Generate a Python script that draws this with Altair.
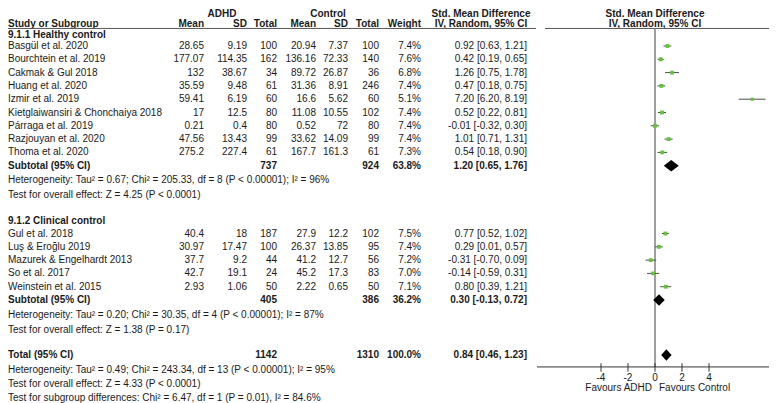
import altair as alt
import pandas as pd

# ---------------- data ----------------
hc_study = ["Basgül et al. 2020", "Bourchtein et al. 2019", "Cakmak & Gul 2018", "Huang et al. 2020",
            "Izmir et al. 2019", "Kietglaiwansiri & Chonchaiya 2018", "Párraga et al. 2019",
            "Razjouyan et al. 2020", "Thoma et al. 2020"]
hc_adhd_mean = ["28.65", "177.07", "132", "35.59", "59.41", "17", "0.21", "47.56", "275.2"]
hc_adhd_sd = ["9.19", "114.35", "38.67", "9.48", "6.19", "12.5", "0.4", "13.43", "227.4"]
hc_adhd_n = [100, 162, 34, 61, 60, 80, 80, 99, 61]
hc_ctrl_mean = ["20.94", "136.16", "89.72", "31.36", "16.6", "11.08", "0.52", "33.62", "167.7"]
hc_ctrl_sd = ["7.37", "72.33", "26.87", "8.91", "5.62", "10.55", "72", "14.09", "161.3"]
hc_ctrl_n = [100, 140, 36, 246, 60, 102, 80, 99, 61]
hc_weight = [7.4, 7.6, 6.8, 7.4, 5.1, 7.4, 7.4, 7.4, 7.3]
hc_smd = [0.92, 0.42, 1.26, 0.47, 7.20, 0.52, -0.01, 1.01, 0.54]
hc_lo = [0.63, 0.19, 0.75, 0.18, 6.20, 0.22, -0.32, 0.71, 0.18]
hc_hi = [1.21, 0.65, 1.78, 0.75, 8.19, 0.81, 0.30, 1.31, 0.90]

cc_study = ["Gul et al. 2018", "Luş & Eroğlu 2019", "Mazurek & Engelhardt 2013", "So et al. 2017",
            "Weinstein et al. 2015"]
cc_adhd_mean = ["40.4", "30.97", "37.7", "42.7", "2.93"]
cc_adhd_sd = ["18", "17.47", "9.2", "19.1", "1.06"]
cc_adhd_n = [187, 100, 44, 24, 50]
cc_ctrl_mean = ["27.9", "26.37", "41.2", "45.2", "2.22"]
cc_ctrl_sd = ["12.2", "13.85", "12.7", "17.3", "0.65"]
cc_ctrl_n = [102, 95, 56, 83, 50]
cc_weight = [7.5, 7.4, 7.2, 7.0, 7.1]
cc_smd = [0.77, 0.29, -0.31, -0.14, 0.80]
cc_lo = [0.52, 0.01, -0.70, -0.59, 0.39]
cc_hi = [1.02, 0.57, 0.09, 0.31, 1.21]

# pooled: label, adhd total, control total, weight, smd, lo, hi
pooled_label = ["Subtotal (95% CI)", "Subtotal (95% CI)", "Total (95% CI)"]
pooled_adhd_n = [737, 405, 1142]
pooled_ctrl_n = [924, 386, 1310]
pooled_weight = [63.8, 36.2, 100.0]
pooled_smd = [1.20, 0.30, 0.84]
pooled_lo = [0.65, -0.13, 0.46]
pooled_hi = [1.76, 0.72, 1.23]

group_titles = ["9.1.1 Healthy control", "9.1.2 Clinical control"]
notes_hc = ["Heterogeneity: Tau² = 0.67; Chi² = 205.33, df = 8 (P < 0.00001); I² = 96%",
            "Test for overall effect: Z = 4.25 (P < 0.0001)"]
notes_cc = ["Heterogeneity: Tau² = 0.20; Chi² = 30.35, df = 4 (P < 0.00001); I² = 87%",
            "Test for overall effect: Z = 1.38 (P = 0.17)"]
notes_total = ["Heterogeneity: Tau² = 0.49; Chi² = 243.34, df = 13 (P < 0.00001); I² = 95%",
               "Test for overall effect: Z = 4.33 (P < 0.0001)",
               "Test for subgroup differences: Chi² = 6.47, df = 1 (P = 0.01), I² = 84.6%"]

axis_ticks = [-4, -2, 0, 2, 4]
favours = ["Favours ADHD", "Favours Control"]

# ---------------- layout (row positions in line units, column x in px) ----------------
ROW_HDR1, ROW_HDR2, ROW_HLINE = -2.42, -1.65, -1.32
ROW_G1 = -0.79
ROW_HC = [float(i) for i in range(9)]
ROW_SUB1, ROW_NOTES1 = 9.0, [10.1, 11.2]
ROW_G2 = 13.15
ROW_CC = [14.1 + i for i in range(5)]
ROW_SUB2, ROW_NOTES2 = 19.1, [20.2, 21.35]
ROW_TOT, ROW_NOTES3 = 23.23, [24.36, 25.4, 26.45]
ROW_AXIS, ROW_TICKLAB, ROW_FAV = 24.13, 24.95, 25.75

COL = dict(name=0, am=196, asd=239, an=269, cm=308, csd=340, cn=371, w=413, ci=519)
X_ADHD, X_CTRL, X_SMDH, X_FOREST = 214, 320, 473, 647

W, H = 761, 395
FONT = "Liberation Sans"
TXT = "#1a1a1a"
GREEN = "#62c23b"

ys = alt.Scale(domain=[0, 26], range=[38, 38 + 13.3 * 26], nice=False, zero=False)
xs = alt.Scale(domain=[-8.74, 8.74], range=[529, 765], nice=False, zero=False)


def fmt_ci(v, l, h):
    return f"{v:.2f} [{l:.2f}, {h:.2f}]"


cells = []


def add(y, x, text, align="right", bold=False):
    cells.append(dict(y=y, x=x, label=text, halign=align, isbold=bold))


# headers
add(ROW_HDR1, X_ADHD, "ADHD", "center", True)
add(ROW_HDR1, X_CTRL, "Control", "center", True)
add(ROW_HDR1, X_SMDH, "Std. Mean Difference", "center", True)
add(ROW_HDR1, X_FOREST, "Std. Mean Difference", "center", True)
add(ROW_HDR2, COL["name"], "Study or Subgroup", "left", True)
for key, lab in [("am", "Mean"), ("asd", "SD"), ("an", "Total"), ("cm", "Mean"), ("csd", "SD"),
                 ("cn", "Total"), ("w", "Weight")]:
    add(ROW_HDR2, COL[key], lab, "right", True)
add(ROW_HDR2, X_SMDH, "IV, Random, 95% CI", "center", True)
add(ROW_HDR2, X_FOREST, "IV, Random, 95% CI", "center", True)

forest = []


def add_group(rows_y, study, am, asd, an, cm, csd, cn, w, smd, lo, hi):
    for i, y in enumerate(rows_y):
        add(y, COL["name"], study[i], "left")
        add(y, COL["am"], am[i])
        add(y, COL["asd"], asd[i])
        add(y, COL["an"], str(an[i]))
        add(y, COL["cm"], cm[i])
        add(y, COL["csd"], csd[i])
        add(y, COL["cn"], str(cn[i]))
        add(y, COL["w"], f"{w[i]:.1f}%")
        add(y, COL["ci"], fmt_ci(smd[i], lo[i], hi[i]))
        forest.append(dict(y=y, smd=smd[i], lo=lo[i], hi=hi[i], w=w[i]))


def add_pooled(j, y):
    add(y, COL["name"], pooled_label[j], "left", True)
    add(y, COL["an"], str(pooled_adhd_n[j]), "right", True)
    add(y, COL["cn"], str(pooled_ctrl_n[j]), "right", True)
    add(y, COL["w"], f"{pooled_weight[j]:.1f}%", "right", True)
    add(y, COL["ci"], fmt_ci(pooled_smd[j], pooled_lo[j], pooled_hi[j]), "right", True)


add(ROW_G1, COL["name"], group_titles[0], "left", True)
add_group(ROW_HC, hc_study, hc_adhd_mean, hc_adhd_sd, hc_adhd_n, hc_ctrl_mean, hc_ctrl_sd, hc_ctrl_n,
          hc_weight, hc_smd, hc_lo, hc_hi)
add_pooled(0, ROW_SUB1)
for t, y in zip(notes_hc, ROW_NOTES1):
    add(y, COL["name"], t, "left")
add(ROW_G2, COL["name"], group_titles[1], "left", True)
add_group(ROW_CC, cc_study, cc_adhd_mean, cc_adhd_sd, cc_adhd_n, cc_ctrl_mean, cc_ctrl_sd, cc_ctrl_n,
          cc_weight, cc_smd, cc_lo, cc_hi)
add_pooled(1, ROW_SUB2)
for t, y in zip(notes_cc, ROW_NOTES2):
    add(y, COL["name"], t, "left")
add_pooled(2, ROW_TOT)
for t, y in zip(notes_total, ROW_NOTES3):
    add(y, COL["name"], t, "left")

cells_df = pd.DataFrame(cells)
forest_df = pd.DataFrame(forest)

# diamonds
dia = []
DH = 0.43
for j, y in enumerate([ROW_SUB1, ROW_SUB2, ROW_TOT]):
    dia.append(dict(id=j, x=pooled_lo[j], yt=y, yb=y))
    dia.append(dict(id=j, x=pooled_smd[j], yt=y - DH, yb=y + DH))
    dia.append(dict(id=j, x=pooled_hi[j], yt=y, yb=y))
dia_df = pd.DataFrame(dia)

layers = []
for align in ["left", "right", "center"]:
    for bold in [False, True]:
        sub = cells_df[(cells_df["halign"] == align) & (cells_df["isbold"] == bold)]
        if len(sub) == 0:
            continue
        layers.append(
            alt.Chart(sub[["x", "y", "label"]]).mark_text(
                align=align, baseline="middle", font=FONT, fontSize=10,
                fontWeight="bold" if bold else "normal", color=TXT)
            .encode(x=alt.X("x:Q", scale=None, axis=None),
                    y=alt.Y("y:Q", scale=ys, axis=None),
                    text="label:N")
        )

# header rules
hl = pd.DataFrame({"x": [0, 537], "x2": [528, 765], "y": [ROW_HLINE, ROW_HLINE]})
layers.append(alt.Chart(hl).mark_rule(color="#555555", strokeWidth=1).encode(
    x=alt.X("x:Q", scale=None, axis=None), x2="x2:Q", y=alt.Y("y:Q", scale=ys, axis=None)))

# zero line
zl = pd.DataFrame({"x": [0], "y": [ROW_HLINE], "y2": [ROW_AXIS]})
layers.append(alt.Chart(zl).mark_rule(color="#808080", strokeWidth=1.5).encode(
    x=alt.X("x:Q", scale=xs, axis=None), y=alt.Y("y:Q", scale=ys, axis=None), y2="y2:Q"))

# axis line
al = pd.DataFrame({"x": [xs.domain[0]], "x2": [xs.domain[1]], "y": [ROW_AXIS]})
layers.append(alt.Chart(al).mark_rule(color="#333333", strokeWidth=1).encode(
    x=alt.X("x:Q", scale=xs, axis=None), x2="x2:Q", y=alt.Y("y:Q", scale=ys, axis=None)))

tk = pd.DataFrame({"t": axis_ticks, "lab": [str(t) for t in axis_ticks],
                   "y": [ROW_AXIS - 0.28] * 5, "y2": [ROW_AXIS + 0.36] * 5, "yl": [ROW_TICKLAB] * 5})
layers.append(alt.Chart(tk).mark_rule(color="#333333", strokeWidth=1).encode(
    x=alt.X("t:Q", scale=xs, axis=None), y=alt.Y("y:Q", scale=ys, axis=None), y2="y2:Q"))
layers.append(alt.Chart(tk).mark_text(font=FONT, fontSize=10, color=TXT, baseline="middle").encode(
    x=alt.X("t:Q", scale=xs, axis=None), y=alt.Y("yl:Q", scale=ys, axis=None), text="lab:N"))

fav = pd.DataFrame({"x": [0, 0], "lab": favours, "y": [ROW_FAV, ROW_FAV]})
layers.append(alt.Chart(fav[fav["lab"] == favours[0]]).mark_text(
    font=FONT, fontSize=10, color=TXT, align="right", baseline="middle", dx=-3).encode(
    x=alt.X("x:Q", scale=xs, axis=None), y=alt.Y("y:Q", scale=ys, axis=None), text="lab:N"))
layers.append(alt.Chart(fav[fav["lab"] == favours[1]]).mark_text(
    font=FONT, fontSize=10, color=TXT, align="left", baseline="middle", dx=4).encode(
    x=alt.X("x:Q", scale=xs, axis=None), y=alt.Y("y:Q", scale=ys, axis=None), text="lab:N"))

# CI lines and squares
layers.append(alt.Chart(forest_df).mark_rule(color="#4d4d4d", strokeWidth=1).encode(
    x=alt.X("lo:Q", scale=xs, axis=None), x2="hi:Q", y=alt.Y("y:Q", scale=ys, axis=None)))
layers.append(alt.Chart(forest_df).mark_square(color=GREEN, opacity=1, filled=True).encode(
    x=alt.X("smd:Q", scale=xs, axis=None), y=alt.Y("y:Q", scale=ys, axis=None),
    size=alt.Size("w:Q", scale=alt.Scale(domain=[0, 8], range=[0, 16]), legend=None)))

# diamonds
layers.append(alt.Chart(dia_df).mark_area(color="black", interpolate="linear", orient="vertical").encode(
    x=alt.X("x:Q", scale=xs, axis=None), y=alt.Y("yt:Q", scale=ys, axis=None), y2="yb:Q",
    detail="id:N"))

chart = alt.layer(*layers).resolve_scale(x="independent").properties(
    width=W, height=H, autosize=alt.AutoSizeParams(type="none"), padding=0,
    background="white").configure_view(stroke=None)

chart.save("out.html", embed_options={"renderer": "svg", "actions": False})
